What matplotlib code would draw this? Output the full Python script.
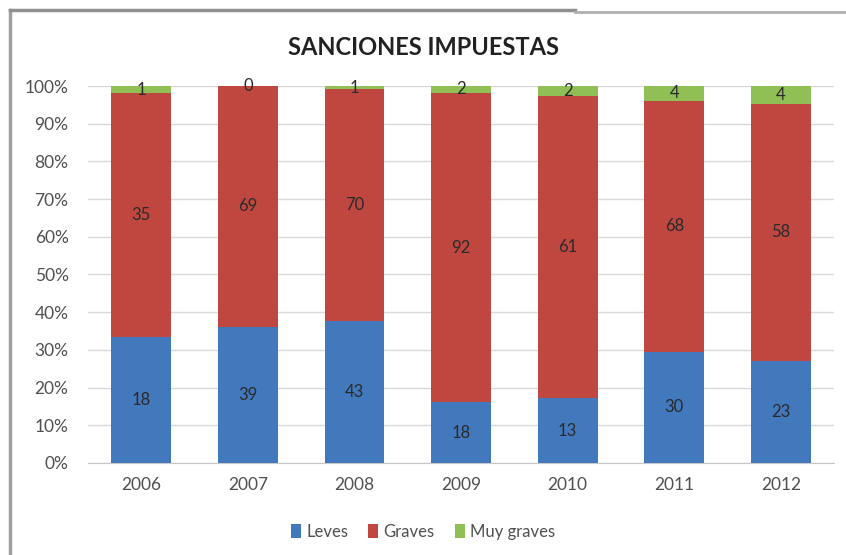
import numpy as np
import matplotlib
matplotlib.use("Agg")
import matplotlib.pyplot as plt
from matplotlib.lines import Line2D

plt.rcParams['font.family'] = ['Lato', 'DejaVu Sans']

# datos
anios = ['2006', '2007', '2008', '2009', '2010', '2011', '2012']
leves = [18, 39, 43, 18, 13, 30, 23]
graves = [35, 69, 70, 92, 61, 68, 58]
muy_graves = [1, 0, 1, 2, 2, 4, 4]
series = ['Leves', 'Graves', 'Muy graves']
colores = ['#4279BD', '#C0473F', '#8FBF55']

datos = np.array([leves, graves, muy_graves], dtype=float)
totales = datos.sum(axis=0)
pct = datos / totales * 100

fig = plt.figure(figsize=(8.46, 5.55), dpi=100)
ax = fig.add_axes([0.104, 0.166, 0.882, 0.679])

x = np.arange(len(anios))
base = np.zeros(len(anios))
for i, nombre in enumerate(series):
    ax.bar(x, pct[i], bottom=base, width=0.56, color=colores[i], label=nombre, zorder=3)
    for j in range(len(anios)):
        ax.text(x[j], base[j] + pct[i][j] / 2, str(int(datos[i][j])),
                ha='center', va='center', fontsize=12, color='#2a2a2a', zorder=4)
    base += pct[i]

ax.set_xlim(-0.5, len(anios) - 0.5)
ax.set_ylim(0, 100)
ax.set_yticks(np.arange(0, 101, 10))
ax.set_yticklabels([f'{v}%' for v in range(0, 101, 10)])
ax.set_xticks(x)
ax.set_xticklabels(anios)
ax.tick_params(axis='both', labelsize=12.5, labelcolor='#505050', length=0)
ax.tick_params(axis='x', pad=10)
ax.tick_params(axis='y', pad=14)
ax.yaxis.grid(True, color='#d9d9d9', linewidth=1, zorder=0)
for s in ['top', 'right', 'left']:
    ax.spines[s].set_visible(False)
ax.spines['bottom'].set_color('#c8c8c8')

fig.text(0.5, 0.915, 'SANCIONES IMPUESTAS', ha='center', va='center',
         fontsize=17, fontweight='bold', color='#222222')

fig.legend(loc='center', bbox_to_anchor=(0.5, 0.042), ncol=3, frameon=False,
           fontsize=12, handlelength=0.6, handleheight=0.9, handletextpad=0.3,
           columnspacing=1.2, labelcolor='#505050')

# marco gris del grafico
fig.add_artist(Line2D([0.012, 0.012], [0.0, 0.982], color='#a0a0a0', linewidth=2.5,
                      transform=fig.transFigure))
fig.add_artist(Line2D([0.012, 0.68], [0.982, 0.982], color='#909090', linewidth=2.5,
                      transform=fig.transFigure))
fig.add_artist(Line2D([0.68, 1.0], [0.978, 0.978], color='#b0b0b0', linewidth=2,
                      transform=fig.transFigure))

fig.savefig('out.png', dpi=100)
